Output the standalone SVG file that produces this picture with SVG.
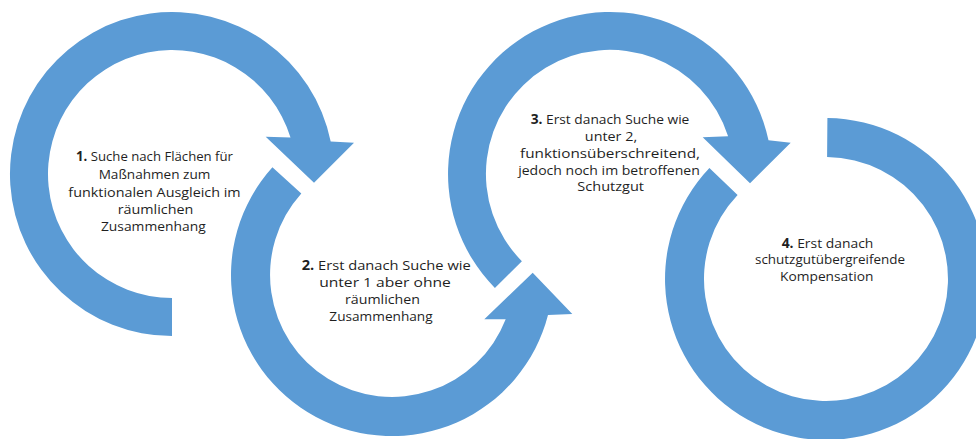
<svg xmlns="http://www.w3.org/2000/svg" width="976" height="439" viewBox="0 0 976 439">
<style>
.arc{fill:#5B9BD5;stroke:none}
.t{font-family:"Open Sans","Liberation Sans",sans-serif;font-size:13.5px;fill:#1f1f1f;text-anchor:middle}
.b{font-weight:bold}
</style>
<rect width="976" height="439" fill="#ffffff"/>
<g id="connectors">
<path class="arc" d="M172,336 A162,162 0 1 1 330.7,141.6 L354,142.7 L314,182.7 L265.7,136.7 L290.5,137.5 A124,124 0 1 0 172,298 Z"/>
<path class="arc" d="M272.4,167.3 A161,161 0 1 0 548.0,314.9 L572.3,314 L532.7,272.7 L484.3,319.3 L505.7,319.3 A122,122 0 1 1 301.3,193.4 Z"/>
<path class="arc" d="M494.9,287.9 A162,162 0 1 1 768.5,140.3 L790.7,142.7 L750,183.3 L702.7,137.3 L728.1,136.3 A124,124 0 1 0 521.9,261.2 Z"/>
<path class="arc" d="M827.4,118 A161,161 0 1 1 709.4,168.0 L737.6,194.9 A122,122 0 1 0 827.1,157 Z"/>
</g>
<g id="node1">
<text class="t" x="154.5" y="161" textLength="157" lengthAdjust="spacingAndGlyphs"><tspan class="b">1.</tspan> Suche nach Flächen für</text>
<text class="t" x="154.5" y="179" textLength="111.7" lengthAdjust="spacingAndGlyphs">Maßnahmen zum</text>
<text class="t" x="154.5" y="197" textLength="172.3" lengthAdjust="spacingAndGlyphs">funktionalen Ausgleich im</text>
<text class="t" x="155.5" y="214" textLength="75.7" lengthAdjust="spacingAndGlyphs">räumlichen</text>
<text class="t" x="153.3" y="231" textLength="104.7" lengthAdjust="spacingAndGlyphs">Zusammenhang</text>
</g>
<g id="node2">
<text class="t" x="386.2" y="269.5" textLength="169" lengthAdjust="spacingAndGlyphs"><tspan class="b">2.</tspan> Erst danach Suche wie</text>
<text class="t" x="385" y="286.5" textLength="131.7" lengthAdjust="spacingAndGlyphs">unter 1 aber ohne</text>
<text class="t" x="382.5" y="303.5" textLength="75" lengthAdjust="spacingAndGlyphs">räumlichen</text>
<text class="t" x="381" y="320.5" textLength="103.3" lengthAdjust="spacingAndGlyphs">Zusammenhang</text>
</g>
<g id="node3">
<text class="t" x="610" y="123.5" textLength="158.7" lengthAdjust="spacingAndGlyphs"><tspan class="b">3.</tspan> Erst danach Suche wie</text>
<text class="t" x="611" y="140.5" textLength="52.3" lengthAdjust="spacingAndGlyphs">unter 2,</text>
<text class="t" x="610" y="157.5" textLength="180" lengthAdjust="spacingAndGlyphs">funktionsüberschreitend,</text>
<text class="t" x="609" y="174.5" textLength="181.7" lengthAdjust="spacingAndGlyphs">jedoch noch im betroffenen</text>
<text class="t" x="610.7" y="191" textLength="66.7" lengthAdjust="spacingAndGlyphs">Schutzgut</text>
</g>
<g id="node4">
<text class="t" x="827.5" y="247.5" textLength="91.7" lengthAdjust="spacingAndGlyphs"><tspan class="b">4.</tspan> Erst danach</text>
<text class="t" x="830" y="264" textLength="150" lengthAdjust="spacingAndGlyphs">schutzgutübergreifende</text>
<text class="t" x="826.7" y="280.5" textLength="93.3" lengthAdjust="spacingAndGlyphs">Kompensation</text>
</g>
</svg>
